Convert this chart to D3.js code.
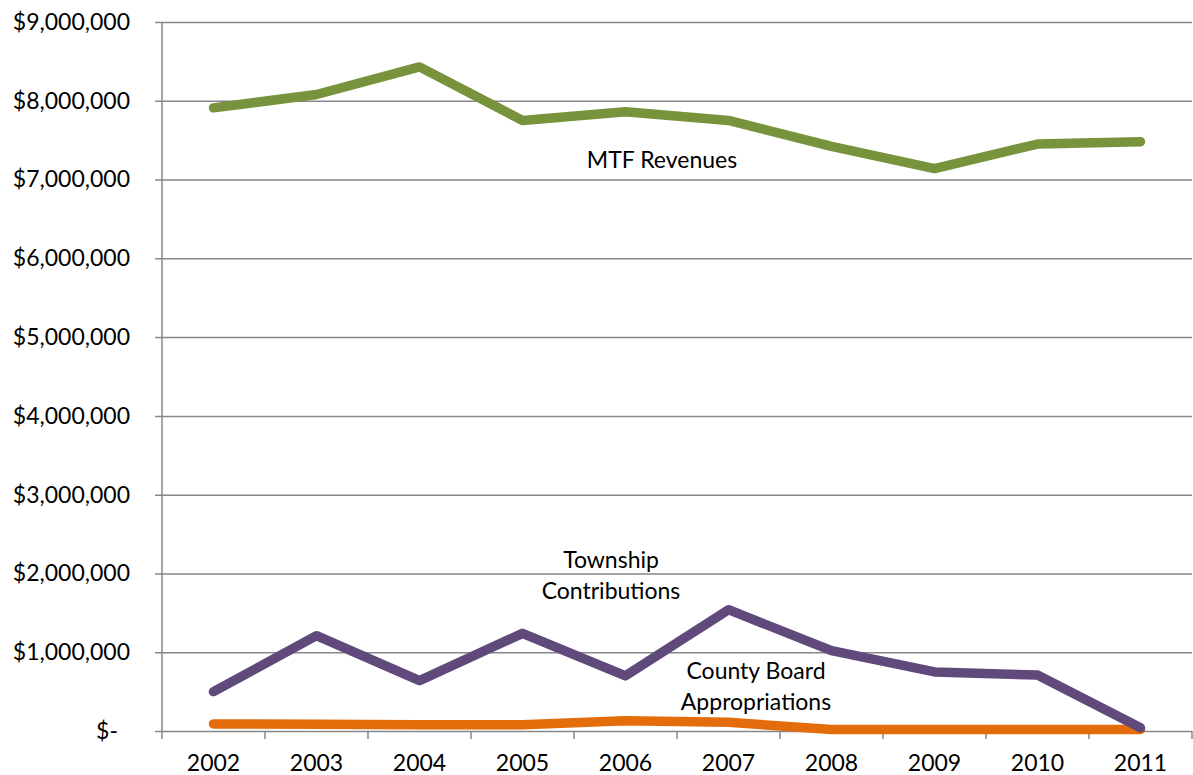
<!DOCTYPE html>
<html>
<head>
<meta charset="utf-8">
<script src="https://cdn.jsdelivr.net/npm/d3@7"></script>
<style>
  body { margin: 0; background: #fff; }
  text { font-family: Lato, "Open Sans", sans-serif; fill: #000; }
</style>
</head>
<body>
<svg id="chart"></svg>
<script>
// values
const years = ["2002", "2003", "2004", "2005", "2006", "2007", "2008", "2009", "2010", "2011"];
const mtfRevenues = [7910000, 8080000, 8430000, 7750000, 7860000, 7750000, 7420000, 7140000, 7450000, 7480000];
const townshipContributions = [500000, 1210000, 640000, 1240000, 700000, 1540000, 1020000, 750000, 710000, 40000];
const countyAppropriations = [90000, 85000, 80000, 80000, 130000, 110000, 20000, 20000, 20000, 20000];
const yTicks = [0, 1000000, 2000000, 3000000, 4000000, 5000000, 6000000, 7000000, 8000000, 9000000];

const series = [
  { name: "MTF Revenues", values: mtfRevenues, color: "#77933C" },
  { name: "Township Contributions", values: townshipContributions, color: "#604A7B" },
  { name: "County Board Appropriations", values: countyAppropriations, color: "#E46C0A" }
];

const W = 1193, H = 775;
const margin = { top: 22, right: 1, bottom: 44, left: 162 };
const width = W - margin.left - margin.right;
const height = H - margin.top - margin.bottom;

const svg = d3.select("#chart").attr("width", W).attr("height", H)
  .append("g")
  .attr("transform", "translate(" + margin.left + "," + margin.top + ")");

const x = d3.scaleBand().domain(years).range([0, width]);
const y = d3.scaleLinear().domain([0, 9000000]).range([height, 0]);

const fmt = d => d === 0 ? "$-" : "$" + d3.format(",")(d);

// gridlines + y axis labels
const yAxis = svg.append("g")
  .call(d3.axisLeft(y).tickValues(yTicks).tickSize(-width).tickPadding(32).tickFormat(fmt));
yAxis.select(".domain").remove();
yAxis.selectAll(".tick line").attr("stroke", "#878787").attr("stroke-width", 1.5).attr("x1", -7);
yAxis.selectAll(".tick text").style("font-size", "23px")
  .attr("dx", d => d === 0 ? -12 : 0);

// vertical axis line
svg.append("line").attr("x1", 0).attr("x2", 0).attr("y1", 0).attr("y2", height)
  .attr("stroke", "#878787").attr("stroke-width", 1.5);

// x axis
const xAxis = svg.append("g").attr("transform", "translate(0," + height + ")")
  .call(d3.axisBottom(x).tickSize(0).tickPadding(24));
xAxis.select(".domain").remove();
xAxis.selectAll(".tick text").style("font-size", "23px");
svg.append("g").selectAll("line")
  .data(years.concat(["end"]))
  .join("line")
  .attr("x1", (d, i) => i * x.bandwidth())
  .attr("x2", (d, i) => i * x.bandwidth())
  .attr("y1", height).attr("y2", height + 8)
  .attr("stroke", "#878787").attr("stroke-width", 1.5);

// lines
const line = d3.line()
  .x((d, i) => x(years[i]) + x.bandwidth() / 2)
  .y(d => y(d));

svg.append("g").selectAll("path")
  .data(series.slice().reverse())
  .join("path")
  .attr("fill", "none")
  .attr("stroke", d => d.color)
  .attr("stroke-width", 9.5)
  .attr("stroke-linecap", "round")
  .attr("stroke-linejoin", "round")
  .attr("d", d => line(d.values));

// series labels
const labels = [
  { lines: ["MTF Revenues"], x: 500, y: 138 },
  { lines: ["Township", "Contributions"], x: 449, y: 538 },
  { lines: ["County Board", "Appropriations"], x: 594, y: 649 }
];
labels.forEach(l => {
  const t = svg.append("text").attr("text-anchor", "middle").style("font-size", "23px");
  l.lines.forEach((s, i) => {
    t.append("tspan").attr("x", l.x).attr("y", l.y + i * 31).attr("dy", "0.35em").text(s);
  });
});
</script>
</body>
</html>
